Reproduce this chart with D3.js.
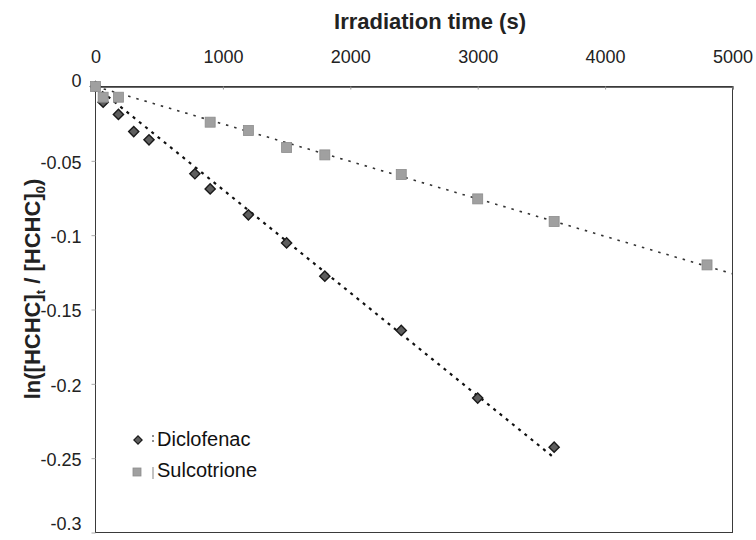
<!DOCTYPE html>
<html>
<head>
<meta charset="utf-8">
<script src="https://cdn.jsdelivr.net/npm/d3@7"></script>
</head>
<body style="margin:0">
<svg id="chart" width="756" height="540" font-family="Arial, 'Liberation Sans', sans-serif"></svg>
<script>
// values
const diclofenacTime = [0, 60, 180, 300, 420, 780, 900, 1200, 1500, 1800, 2400, 3000, 3600];
const diclofenacLn   = [0, -0.0106, -0.0188, -0.0303, -0.0359, -0.0587, -0.0689, -0.0863, -0.1052, -0.1276, -0.1641, -0.2096, -0.2426];
const sulcotrioneTime = [0, 60, 180, 900, 1200, 1500, 1800, 2400, 3000, 3600, 4800];
const sulcotrioneLn   = [0, -0.0072, -0.0072, -0.024, -0.0296, -0.041, -0.046, -0.0592, -0.0756, -0.0908, -0.120];
const xTicks = [0, 1000, 2000, 3000, 4000, 5000];
const yTicks = [0, -0.05, -0.1, -0.15, -0.2, -0.25, -0.3];
const seriesNames = ['Diclofenac', 'Sulcotrione'];
const trendEnd = [3600, 5000];   // how far each trend line is drawn

const svg = d3.select('#chart');
const plotLeft = 95.5, plotRight = 732.5, plotTop = 86.5, plotBottom = 532.5;

const x = d3.scaleLinear().domain([0, 5000]).range([plotLeft, plotRight]);
const y = d3.scaleLinear().domain([-0.3, 0]).range([plotBottom, plotTop]);

// least squares through the origin (like the excel trendline)
function slopeThroughOrigin(xs, ys) {
    const sxy = d3.sum(xs, (v, i) => v * ys[i]);
    const sxx = d3.sum(xs, v => v * v);
    return sxy / sxx;
}

// plot frame
svg.append('rect')
    .attr('x', x(0)).attr('y', y(0))
    .attr('width', x(5000) - x(0))
    .attr('height', y(-0.3) - y(0))
    .attr('fill', 'none')
    .attr('stroke', '#3a3a3a')
    .attr('stroke-width', 1.5)
    .attr('shape-rendering', 'crispEdges');

// top axis
const xAxis = svg.append('g')
    .attr('transform', `translate(0,${plotTop})`)
    .call(d3.axisTop(x).tickValues(xTicks).tickSize(-3).tickPadding(24).tickFormat(d => String(d)));
xAxis.select('.domain').attr('stroke', '#3a3a3a').attr('stroke-width', 1.5);
xAxis.selectAll('.tick line').attr('stroke', '#999');
xAxis.selectAll('.tick text').attr('font-size', 18).attr('fill', '#222')
    .attr('font-family', 'Arial, "Liberation Sans", sans-serif');

// left axis
const yAxis = svg.append('g')
    .attr('transform', `translate(${plotLeft},0)`)
    .call(d3.axisLeft(y).tickValues(yTicks).tickSize(4).tickPadding(10)
        .tickFormat(d => d === 0 ? '0' : String(+d.toFixed(2))));
yAxis.select('.domain').remove();
yAxis.selectAll('.tick line').attr('stroke', '#aaa');
yAxis.selectAll('.tick text').attr('font-size', 18).attr('fill', '#222')
    .attr('font-family', 'Arial, "Liberation Sans", sans-serif')
    .attr('dy', d => d === -0.3 ? '-0.15em' : (d === 0 ? '0em' : '0.4em'));

// axis titles
svg.append('text')
    .attr('x', 430).attr('y', 29)
    .attr('text-anchor', 'middle')
    .attr('font-size', 22).attr('font-weight', 700).attr('fill', '#222')
    .text('Irradiation time (s)');

const yTitle = svg.append('text')
    .attr('transform', 'translate(40,289) rotate(-90)')
    .attr('text-anchor', 'middle')
    .attr('font-size', 22).attr('font-weight', 700).attr('fill', '#222');
yTitle.append('tspan').text('ln([HCHC]');
yTitle.append('tspan').attr('dy', 5).attr('font-size', 13).text('t');
yTitle.append('tspan').attr('dy', -5).text(' / [HCHC]');
yTitle.append('tspan').attr('dy', 5).attr('font-size', 13).text('0');
yTitle.append('tspan').attr('dy', -5).text(')');

// trend lines
const series = [
    { name: seriesNames[0], t: diclofenacTime, v: diclofenacLn },
    { name: seriesNames[1], t: sulcotrioneTime, v: sulcotrioneLn }
];
const lineStyle = [
    { stroke: '#111', width: 2.2, dash: '3,5' },
    { stroke: '#333', width: 1.6, dash: '2.5,6' }
];
series.forEach((s, i) => {
    const k = slopeThroughOrigin(s.t, s.v);
    svg.append('line')
        .attr('x1', x(0)).attr('y1', y(0))
        .attr('x2', x(trendEnd[i])).attr('y2', y(k * trendEnd[i]))
        .attr('stroke', lineStyle[i].stroke)
        .attr('stroke-width', lineStyle[i].width)
        .attr('stroke-dasharray', lineStyle[i].dash);
});

// diclofenac diamonds
const diamond = d3.symbol().type(d3.symbolSquare).size(52);
svg.append('g').selectAll('path')
    .data(diclofenacTime.map((t, i) => [t, diclofenacLn[i]]))
    .enter().append('path')
    .attr('d', diamond)
    .attr('transform', d => `translate(${x(d[0])},${y(d[1])}) rotate(45)`)
    .attr('fill', '#5e5e5e')
    .attr('stroke', '#1a1a1a')
    .attr('stroke-width', 1.4);

// sulcotrione squares
svg.append('g').selectAll('rect')
    .data(sulcotrioneTime.map((t, i) => [t, sulcotrioneLn[i]]))
    .enter().append('rect')
    .attr('x', d => x(d[0]) - 5).attr('y', d => y(d[1]) - 5)
    .attr('width', 10).attr('height', 10)
    .attr('fill', '#a0a0a0')
    .attr('stroke', '#8c8c8c')
    .attr('stroke-width', 0.8);

// legend
const legend = svg.append('g');
legend.append('path')
    .attr('d', d3.symbol().type(d3.symbolSquare).size(34))
    .attr('transform', 'translate(138,440) rotate(45)')
    .attr('fill', '#5e5e5e').attr('stroke', '#1a1a1a').attr('stroke-width', 1.2);
legend.append('line')
    .attr('x1', 153).attr('y1', 435).attr('x2', 153).attr('y2', 445)
    .attr('stroke', '#444').attr('stroke-width', 1.2).attr('stroke-dasharray', '2,3');
legend.append('text')
    .attr('x', 157).attr('y', 446)
    .attr('font-size', 20).attr('fill', '#111')
    .text(seriesNames[0]);

legend.append('rect')
    .attr('x', 133).attr('y', 468).attr('width', 8).attr('height', 8)
    .attr('fill', '#a0a0a0').attr('stroke', '#8c8c8c').attr('stroke-width', 0.8);
legend.append('line')
    .attr('x1', 153).attr('y1', 467).attr('x2', 153).attr('y2', 479)
    .attr('stroke', '#999').attr('stroke-width', 1.2);
legend.append('text')
    .attr('x', 157).attr('y', 477)
    .attr('font-size', 20).attr('fill', '#111')
    .text(seriesNames[1]);
</script>
</body>
</html>
